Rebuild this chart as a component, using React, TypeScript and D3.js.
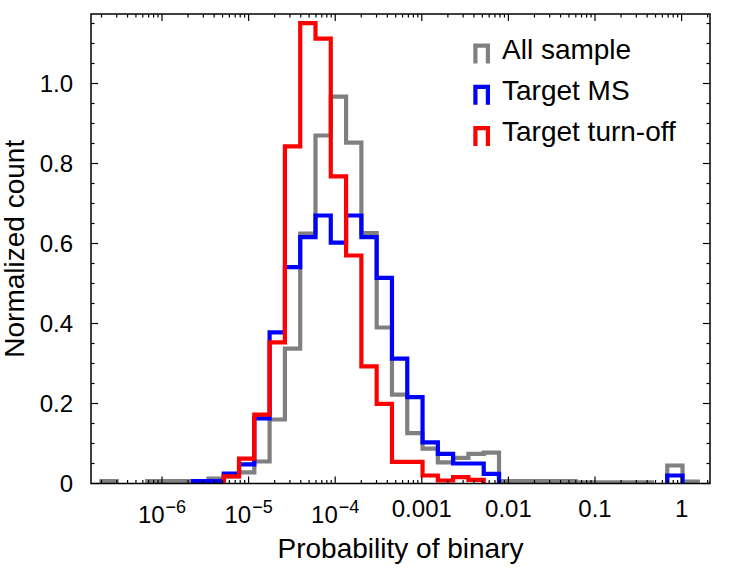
import React from 'react';
import * as d3 from 'd3';

// Histogram bins: uniform in log10(probability)
const BIN_LOG_START = -6.70;
const BIN_LOG_WIDTH = 0.1766;

// Normalized counts per bin (39 bins)
const allSample = [
  0.006, 0, 0, 0.006, 0.006, 0.006, 0.006, 0.012, 0.018, 0.028,
  0.055, 0.16, 0.337, 0.625, 0.87, 0.967, 0.852, 0.626, 0.39, 0.222,
  0.126, 0.087, 0.053, 0.064, 0.074, 0.077, 0.006, 0.006, 0.006, 0.006,
  0.006, 0.003, 0.003, 0.003, 0.003, 0.003, 0, 0.045, 0.005,
];
const targetMS = [
  0, 0, 0, 0, 0, 0, 0.006, 0.006, 0.025, 0.048,
  0.163, 0.378, 0.541, 0.616, 0.67, 0.602, 0.67, 0.616, 0.514, 0.312,
  0.216, 0.103, 0.074, 0.05, 0.05, 0.024, 0, 0, 0, 0,
  0, 0, 0, 0, 0, 0, 0, 0.02, 0,
];
const targetTurnOff = [
  0, 0, 0, 0, 0, 0, 0, 0, 0.018, 0.062,
  0.172, 0.353, 0.843, 1.151, 1.112, 0.768, 0.57, 0.293, 0.199, 0.054,
  0.054, 0.02, 0.0075, 0.016, 0.009, 0, 0, 0, 0, 0,
  0, 0, 0, 0, 0, 0, 0, 0, 0,
];

const seriesNames = ['All sample', 'Target MS', 'Target turn-off'];
const seriesColors = ['#808080', '#0000ff', '#ff0000'];
const seriesValues = [allSample, targetMS, targetTurnOff];

const xTickValues = [1e-6, 1e-5, 1e-4, 1e-3, 1e-2, 1e-1, 1];
const xTickBase = ['10', '10', '10', '', '', '', ''];
const xTickExp = ['−6', '−5', '−4', '', '', '', ''];
const xTickPlain = ['', '', '', '0.001', '0.01', '0.1', '1'];

const yTickValues = [0, 0.2, 0.4, 0.6, 0.8, 1.0];
const yTickLabels = ['0', '0.2', '0.4', '0.6', '0.8', '1.0'];

const X_DOMAIN_LOG = [-6.82, 0.328];
const Y_DOMAIN = [0, 1.17375];

const W = 747;
const H = 568;
const L = 91, R = 710, T = 14, B = 483.5;
const FONT = '"Liberation Sans", Arial, sans-serif';
const LW = 4.2;

export default function App() {
  const x = d3.scaleLog().domain([10 ** X_DOMAIN_LOG[0], 10 ** X_DOMAIN_LOG[1]]).range([L, R]);
  const y = d3.scaleLinear().domain(Y_DOMAIN).range([B, T]);
  const nBins = allSample.length;
  const edges = d3.range(nBins + 1).map((i) => 10 ** (BIN_LOG_START + i * BIN_LOG_WIDTH));

  const stepPath = (vals: number[]) => {
    let d = '';
    let i = 0;
    while (i < vals.length) {
      if (vals[i] <= 0) { i++; continue; }
      let j = i;
      d += `M${x(edges[i])},${y(0)}`;
      while (j < vals.length && vals[j] > 0) {
        d += `V${y(vals[j])}H${x(edges[j + 1])}`;
        j++;
      }
      d += `V${y(0)}`;
      i = j;
    }
    return d;
  };

  const xMinor: number[] = [];
  for (let dec = -7; dec <= 0; dec++) {
    for (let m = 2; m <= 9; m++) {
      const v = m * 10 ** dec;
      const px = x(v);
      if (px > L && px < R) xMinor.push(v);
    }
  }
  const yMinor = d3.range(0, 1.17, 0.05).filter((v) => Math.abs(Math.round(v / 0.2) * 0.2 - v) > 1e-6);

  const MAJ = 7, MIN = 3.5;
  const legendBaselines = [58.5, 99.8, 141];

  return (
    <svg width={W} height={H} style={{ position: 'absolute', left: 0, top: 0, background: '#fff' }}
      xmlns="http://www.w3.org/2000/svg">
      <defs>
        <clipPath id="plotclip">
          <rect x={L} y={T} width={R - L} height={B - T} />
        </clipPath>
      </defs>
      <rect x={0} y={0} width={W} height={H} fill="#fff" />
      <g clipPath="url(#plotclip)">
        {seriesValues.map((vals, k) => (
          <path key={k} d={stepPath(vals)} fill="none" stroke={seriesColors[k]}
            strokeWidth={LW} strokeLinejoin="miter" strokeLinecap="butt" />
        ))}
      </g>
      {/* ticks */}
      <g stroke="#000" strokeWidth={1.2}>
        {xTickValues.map((v, i) => (
          <g key={'xm' + i}>
            <line x1={x(v)} x2={x(v)} y1={B} y2={B - MAJ} />
            <line x1={x(v)} x2={x(v)} y1={T} y2={T + MAJ} />
          </g>
        ))}
        {xMinor.map((v, i) => (
          <g key={'xn' + i}>
            <line x1={x(v)} x2={x(v)} y1={B} y2={B - MIN} />
            <line x1={x(v)} x2={x(v)} y1={T} y2={T + MIN} />
          </g>
        ))}
        {yTickValues.map((v, i) => (
          <g key={'ym' + i}>
            <line x1={L} x2={L + MAJ} y1={y(v)} y2={y(v)} />
            <line x1={R} x2={R - MAJ} y1={y(v)} y2={y(v)} />
          </g>
        ))}
        {yMinor.map((v, i) => (
          <g key={'yn' + i}>
            <line x1={L} x2={L + MIN} y1={y(v)} y2={y(v)} />
            <line x1={R} x2={R - MIN} y1={y(v)} y2={y(v)} />
          </g>
        ))}
      </g>
      <rect x={L} y={T} width={R - L} height={B - T} fill="none" stroke="#000" strokeWidth={1.5} />
      {/* tick labels */}
      <g fontFamily={FONT} fill="#000">
        {yTickValues.map((v, i) => (
          <text key={'yl' + i} x={73} y={y(v) + 8.6} fontSize={24} textAnchor="end">{yTickLabels[i]}</text>
        ))}
        {xTickValues.map((v, i) =>
          xTickPlain[i] ? (
            <text key={'xl' + i} x={x(v)} y={517} fontSize={24} textAnchor="middle">{xTickPlain[i]}</text>
          ) : (
            <text key={'xl' + i} x={x(v)} y={523} fontSize={24} textAnchor="middle">
              {xTickBase[i]}
              <tspan fontSize={18} dy={-10} dx={1}>{xTickExp[i]}</tspan>
            </text>
          )
        )}
        <text x={(L + R) / 2} y={558} fontSize={28} textAnchor="middle">Probability of binary</text>
        <text transform={`translate(23.5,${(T + B) / 2}) rotate(-90)`} fontSize={28} textAnchor="middle">Normalized count</text>
      </g>
      {/* legend */}
      <g fontFamily={FONT}>
        {seriesNames.map((name, k) => {
          const bl = legendBaselines[k];
          const x0 = 473.3 + LW / 2, x1 = 490 - LW / 2;
          const yTop = bl - 15 + LW / 2, yBot = bl + 5;
          return (
            <g key={'lg' + k}>
              <path d={`M${x0},${yBot}V${yTop}H${x1}V${yBot}`} fill="none" stroke={seriesColors[k]}
                strokeWidth={LW} strokeLinejoin="miter" />
              <text x={502} y={bl} fontSize={28} fill="#000">{name}</text>
            </g>
          );
        })}
      </g>
    </svg>
  );
}
